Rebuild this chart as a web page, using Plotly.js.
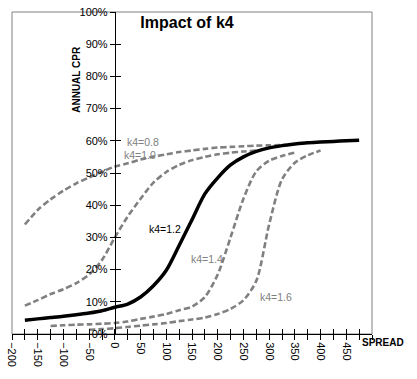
<!DOCTYPE html>
<html>
<head>
<meta charset="utf-8">
<script src="https://cdn.plot.ly/plotly-3.0.1.min.js"></script>
<style>html,body{margin:0;padding:0;background:#fff;}#chart{width:417px;height:379px;}</style>
</head>
<body>
<div id="chart"></div>
<script>
// Data (spread in bp, annual CPR in %)
const x08 = [-175,-150,-125,-100,-75,-50,-25,0,25,50,75,100,125,150,175,200,225,250,275,300,325];
const y08 = [34,38.5,41.8,44.5,46.8,48.6,50.4,52,53,54.2,55.1,55.8,56.5,57,57.5,57.9,58.1,58.3,58.5,58.6,58.7];

const x10 = [-175,-150,-125,-100,-75,-50,-25,0,25,50,75,100,125,150,175,200,225,250,275];
const y10 = [8.8,10.5,12.4,13.9,15.8,18.5,23,30,36.5,42,47,50.3,52.5,54,55,55.8,56.3,56.7,57];

const x12 = [-175,-150,-125,-100,-75,-50,-25,0,25,50,75,100,125,150,175,200,225,250,275,300,325,350,375,400,425,450,475];
const y12 = [4.3,4.7,5.1,5.5,6,6.5,7.2,8.3,9.3,11.5,15,19.8,27.5,35.5,43.5,48.5,52.5,55,56.7,57.8,58.5,59,59.4,59.6,59.8,60,60.2];

const x14 = [-125,-100,-75,-50,-25,0,25,50,75,100,125,150,175,200,225,250,275,300,325,350];
const y14 = [2.5,2.7,2.9,3.0,3.2,3.4,3.9,4.7,5.4,6.2,7.4,8.5,11.5,18.5,30,42,50.5,53.8,55.3,56.3];

const x16 = [-50,-25,0,25,50,75,100,125,150,175,200,225,250,275,300,325,350,375,400];
const y16 = [1.3,1.5,1.8,2.2,2.6,3.0,3.4,4.0,4.5,5.1,6.2,7.8,10.5,16.5,34,48,53.2,55.5,57];

const seriesNames = ["k4=0.8","k4=1.0","k4=1.2","k4=1.4","k4=1.6"];
const labelX = [20, 13, 62, 145, 279];
const labelY = [59.6, 55.5, 32.5, 23.2, 11.4];

const xTickVals = [-200,-150,-100,-50,0,50,100,150,200,250,300,350,400,450];

const titleText = "Impact of k4";
const yTitle = "ANNUAL CPR";
const xTitle = "SPREAD";

const GRAY = "#808080";
const FONT = "Liberation Sans, Arial, sans-serif";

const dashed = {color: GRAY, width: 2.6, dash: "6px,3px", shape: "spline", smoothing: 0.8};
const traces = [
  {x: x08, y: y08, mode: "lines", line: dashed, name: seriesNames[0]},
  {x: x10, y: y10, mode: "lines", line: dashed, name: seriesNames[1]},
  {x: x14, y: y14, mode: "lines", line: dashed, name: seriesNames[3]},
  {x: x16, y: y16, mode: "lines", line: dashed, name: seriesNames[4]},
  {x: x12, y: y12, mode: "lines", line: {color: "#000", width: 3.5, shape: "spline", smoothing: 0.8}, name: seriesNames[2]},
  // helper traces to activate overlay axes (invisible)
  {x: [-200], y: [0], mode: "markers", marker: {opacity: 0}, xaxis: "x2", yaxis: "y2", hoverinfo: "skip", showlegend: false},
  {x: [-200], y: [0], mode: "markers", marker: {opacity: 0}, xaxis: "x3", yaxis: "y", hoverinfo: "skip", showlegend: false}
];

const yPos = 200 / 700;
const annotations = seriesNames.map((n, i) => ({
  x: labelX[i], y: labelY[i], xref: "x", yref: "y", text: n, showarrow: false,
  xanchor: "left", yanchor: "middle",
  font: {family: FONT, size: 10.5, color: i === 2 ? "#000" : GRAY}
}));
annotations.push({
  xref: "paper", yref: "paper", x: 0.18, y: 0.792, text: "<b>" + yTitle + "</b>", textangle: -90,
  showarrow: false, xanchor: "center", yanchor: "middle", font: {family: FONT, size: 10, color: "#000"}
});
annotations.push({
  xref: "paper", yref: "paper", x: 0.966, y: -0.026, text: "<b>" + xTitle + "</b>",
  showarrow: false, xanchor: "left", yanchor: "middle", font: {family: FONT, size: 10, color: "#000"}
});

const layout = {
  width: 417, height: 379,
  margin: {l: 12, r: 45, t: 12, b: 45},
  paper_bgcolor: "#fff", plot_bgcolor: "#fff",
  showlegend: false,
  title: {text: "<b>" + titleText + "</b>", x: 187/417, xanchor: "center", y: 1 - 22/379, yanchor: "middle",
          font: {family: FONT, size: 16, color: "#000"}},
  font: {family: FONT, size: 11, color: "#000"},
  xaxis: {
    range: [-200, 500], tickmode: "array", tickvals: xTickVals, tickangle: 90,
    showgrid: false, zeroline: false, showline: true, linecolor: "#000", linewidth: 1,
    ticks: "outside", ticklen: 5, tickcolor: "rgba(0,0,0,0)", tickwidth: 1,
    tickfont: {family: FONT, size: 11, color: "#000"},
    anchor: "y", fixedrange: true
  },
  xaxis2: {
    range: [-200, 500], dtick: 25, tick0: 0, overlaying: "x", anchor: "y", side: "bottom",
    showgrid: false, zeroline: false, showline: false, showticklabels: false,
    ticks: "inside", ticklen: 5, tickcolor: "#000", tickwidth: 1
  },
  xaxis3: {
    range: [-200, 500], dtick: 25, tick0: 0, overlaying: "x", anchor: "y", side: "bottom",
    showgrid: false, zeroline: false, showline: false, showticklabels: false,
    ticks: "outside", ticklen: 5, tickcolor: "#000", tickwidth: 1
  },
  yaxis: {
    range: [0, 100], dtick: 10, ticksuffix: "%",
    showgrid: false, zeroline: false, showline: true, linecolor: "#000", linewidth: 1.5,
    ticks: "outside", ticklen: 5, tickcolor: "#000", tickwidth: 1,
    tickfont: {family: FONT, size: 11, color: "#000"},
    anchor: "free", position: yPos, fixedrange: true
  },
  yaxis2: {
    range: [0, 100], dtick: 10, overlaying: "y", anchor: "free", position: yPos,
    showgrid: false, zeroline: false, showline: false, showticklabels: false,
    ticks: "inside", ticklen: 5, tickcolor: "#000", tickwidth: 1
  },
  shapes: [{type: "rect", xref: "paper", yref: "paper", x0: 0, x1: 1, y0: 0, y1: 1,
            line: {color: GRAY, width: 1}, layer: "below"}],
  annotations: annotations
};

Plotly.newPlot("chart", traces, layout, {staticPlot: true, displayModeBar: false});
</script>
</body>
</html>
